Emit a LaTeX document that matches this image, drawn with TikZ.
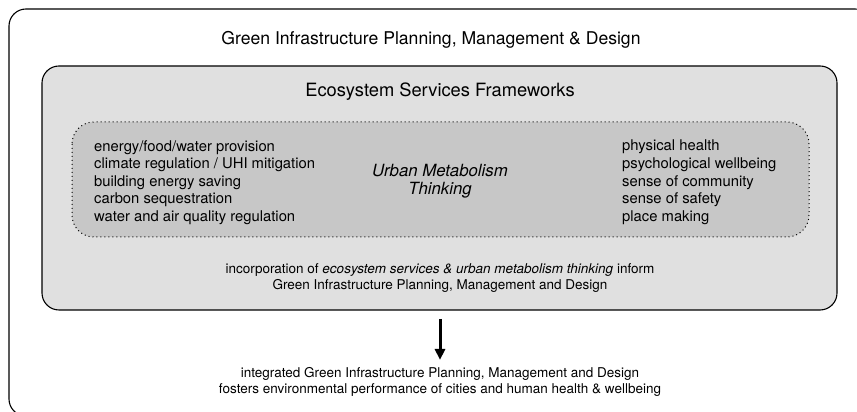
\documentclass[tikz,border=0pt]{standalone}
\usepackage{fontspec}
\setmainfont{TeX Gyre Heros}
\usetikzlibrary{arrows.meta}

\begin{document}
\begin{tikzpicture}[x=1pt,y=1pt,
		frame/.style={draw=black, line width=1.1pt, rounded corners=17pt},
		heading/.style={font=\fontsize{17.6}{20}\selectfont},
		listtext/.style={anchor=north west, align=left, inner sep=0pt, font=\fontsize{14.8}{17.6}\selectfont},
		note/.style={align=center, font=\fontsize{13.5}{16}\selectfont},
		flow/.style={line width=3pt, -{Triangle[length=11pt, width=10pt]}}]
	\useasboundingbox (0,0) rectangle (857,412);
	% outer and inner frames
	\draw[frame, fill=white] (9,403) rectangle (872,-4);
	\filldraw[frame, fill=black!12] (42,346) rectangle (837,102);
	\filldraw[fill=black!22, draw=black, line width=1pt, dash pattern=on 1pt off 3pt, rounded corners=22pt] (72,290) rectangle (809,175);
	% headings
	\node[heading] (gipmd) at (431,372) {Green Infrastructure Planning, Management \& Design};
	\node[heading, font=\fontsize{18.3}{20}\selectfont] (esf) at (440,320) {Ecosystem Services Frameworks};
	% services on both sides
	\node[listtext] (env) at (94,272) {energy/food/water provision\\ climate regulation / UHI mitigation\\ building energy saving\\ carbon sequestration\\ water and air quality regulation};
	\node[listtext] (health) at (622,272) {physical health\\ psychological wellbeing\\ sense of community\\ sense of safety\\ place making};
	\node[align=center, font=\fontsize{16.8}{18}\selectfont\itshape] (umt) at (440,231) {Urban Metabolism\\ Thinking};
	% notes and result
	\node[note] (inform) at (440,134) {incorporation of \textit{ecosystem services \& urban metabolism thinking} inform\\ Green Infrastructure Planning, Management and Design};
	\node[note] (result) at (440,30) {integrated Green Infrastructure Planning, Management and Design\\ fosters environmental performance of cities and human health \& wellbeing};
	\coordinate (start) at (440,93);
	\draw[flow] (start) -- ([yshift=4pt]result.north);
\end{tikzpicture}
\end{document}
